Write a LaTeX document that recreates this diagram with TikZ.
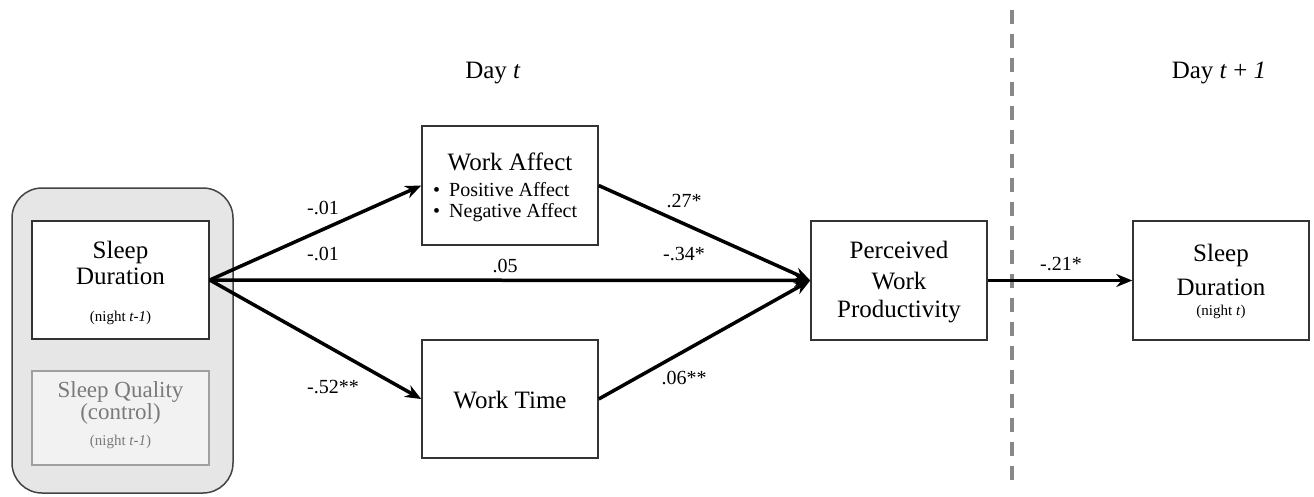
\documentclass[tikz,border=0pt]{standalone}
\usepackage{fontspec}
\IfFontExistsTF{LiberationSerif-Regular.ttf}
  {\setmainfont{LiberationSerif}[Extension=.ttf,UprightFont=*-Regular,ItalicFont=*-Italic,BoldFont=*-Bold]}
  {\setmainfont{Liberation Serif}}
\usetikzlibrary{arrows.meta}
\definecolor{boxline}{HTML}{333333}
\definecolor{outerfill}{HTML}{E6E6E6}
\definecolor{outerline}{HTML}{444444}
\definecolor{sqfill}{HTML}{F2F2F2}
\definecolor{sqline}{HTML}{A0A0A0}
\definecolor{sqtext}{HTML}{7A7A7A}
\definecolor{dashcol}{HTML}{888888}
\tikzset{
  varbox/.style={draw=boxline, line width=1.5pt, fill=white, inner sep=0pt},
  bigtxt/.style={font=\rmfamily\fontsize{25}{25}\selectfont, inner sep=0pt},
  midtxt/.style={font=\rmfamily\fontsize{20}{20}\selectfont, inner sep=0pt},
  smalltxt/.style={font=\rmfamily\fontsize{15}{15}\selectfont, inner sep=0pt},
  coef/.style={font=\rmfamily\fontsize{20}{20}\selectfont, inner sep=0pt},
  path/.style={line width=3.5pt, -{Stealth[length=16pt,width=13pt]}},
}
\begin{document}
\begin{tikzpicture}[x=1pt,y=-1pt]
\useasboundingbox (0,0) rectangle (1314,496);
% outer rounded gray box
\node[draw=outerline, line width=1.5pt, fill=outerfill, rounded corners=30pt,
      minimum width=221pt, minimum height=305pt, inner sep=0pt] (outer) at (122.5,340.5) {};
% boxes
\node[varbox, minimum width=177pt, minimum height=118pt] (sd) at (120.5,280) {};
\node[draw=sqline, line width=1.2pt, fill=sqfill, inner sep=0pt,
      minimum width=177pt, minimum height=94pt] (sq) at (120.5,418) {};
\node[varbox, minimum width=176pt, minimum height=119pt] (wa) at (510,185.5) {};
\node[varbox, minimum width=176pt, minimum height=118pt] (wt) at (510,399) {};
\node[varbox, minimum width=176pt, minimum height=119pt] (pwp) at (899,280.5) {};
\node[varbox, minimum width=176pt, minimum height=119pt] (sd2) at (1221,280.5) {};
% texts
\node[bigtxt] (sdt1) at (120.5,252) {Sleep};
\node[bigtxt] (sdt2) at (120.5,276) {Duration};
\node[smalltxt] (sdt3) at (120.5,318) {(night \textit{t-1})};
\node[font=\rmfamily\fontsize{23}{23}\selectfont, inner sep=0pt, text=sqtext] (sqt1) at (120.5,392) {Sleep Quality};
\node[font=\rmfamily\fontsize{23}{23}\selectfont, inner sep=0pt, text=sqtext] (sqt2) at (120.5,414) {(control)};
\node[smalltxt, text=sqtext] (sqt3) at (120.5,442) {(night \textit{t-1})};
\node[bigtxt] (wat1) at (510,162) {Work Affect};
\node[midtxt, anchor=west] (wat2) at (433,190) {\textbullet\hspace{9pt}Positive Affect};
\node[midtxt, anchor=west] (wat3) at (433,213) {\textbullet\hspace{9pt}Negative Affect};
\node[bigtxt] (wtt) at (510,400) {Work Time};
\node[bigtxt] (pt1) at (899,250) {Perceived};
\node[bigtxt] (pt2) at (899,281) {Work};
\node[bigtxt] (pt3) at (899,312) {Productivity};
\node[bigtxt] (s2t1) at (1221,255) {Sleep};
\node[bigtxt] (s2t2) at (1221,287) {Duration};
\node[smalltxt] (s2t3) at (1221,312) {(night \textit{t})};
\node[bigtxt] (dayt) at (493,73) {Day \textit{t}};
\node[bigtxt] (dayt1) at (1219,73) {Day \textit{t} + \textit{1}};
% dashed divider
\coordinate (dtop) at (1012,10);
\coordinate (dbot) at (1012,486);
\draw[dashcol, line width=4pt, dash pattern=on 14pt off 10pt] (dtop) -- (dbot);
% paths
\draw[path] (sd.east) -- (wa.west);
\draw[path] (sd.east) -- (wt.west);
\draw[path] (sd.east) -- (pwp.west);
\draw[path] (wa.east) -- (pwp.west);
\draw[path] (wt.east) -- (pwp.west);
\draw[path] (pwp.east) -- (sd2.west);
% coefficients
\node[coef] (c1) at (323,208) {-.01};
\node[coef] (c2) at (323,254) {-.01};
\node[coef] (c3) at (505,266) {.05};
\node[coef] (c4) at (333,387) {-.52**};
\node[coef] (c5) at (684,201) {.27*};
\node[coef] (c6) at (684,254) {-.34*};
\node[coef] (c7) at (684,378) {.06**};
\node[coef] (c8) at (1061,264) {-.21*};
\end{tikzpicture}
\end{document}
